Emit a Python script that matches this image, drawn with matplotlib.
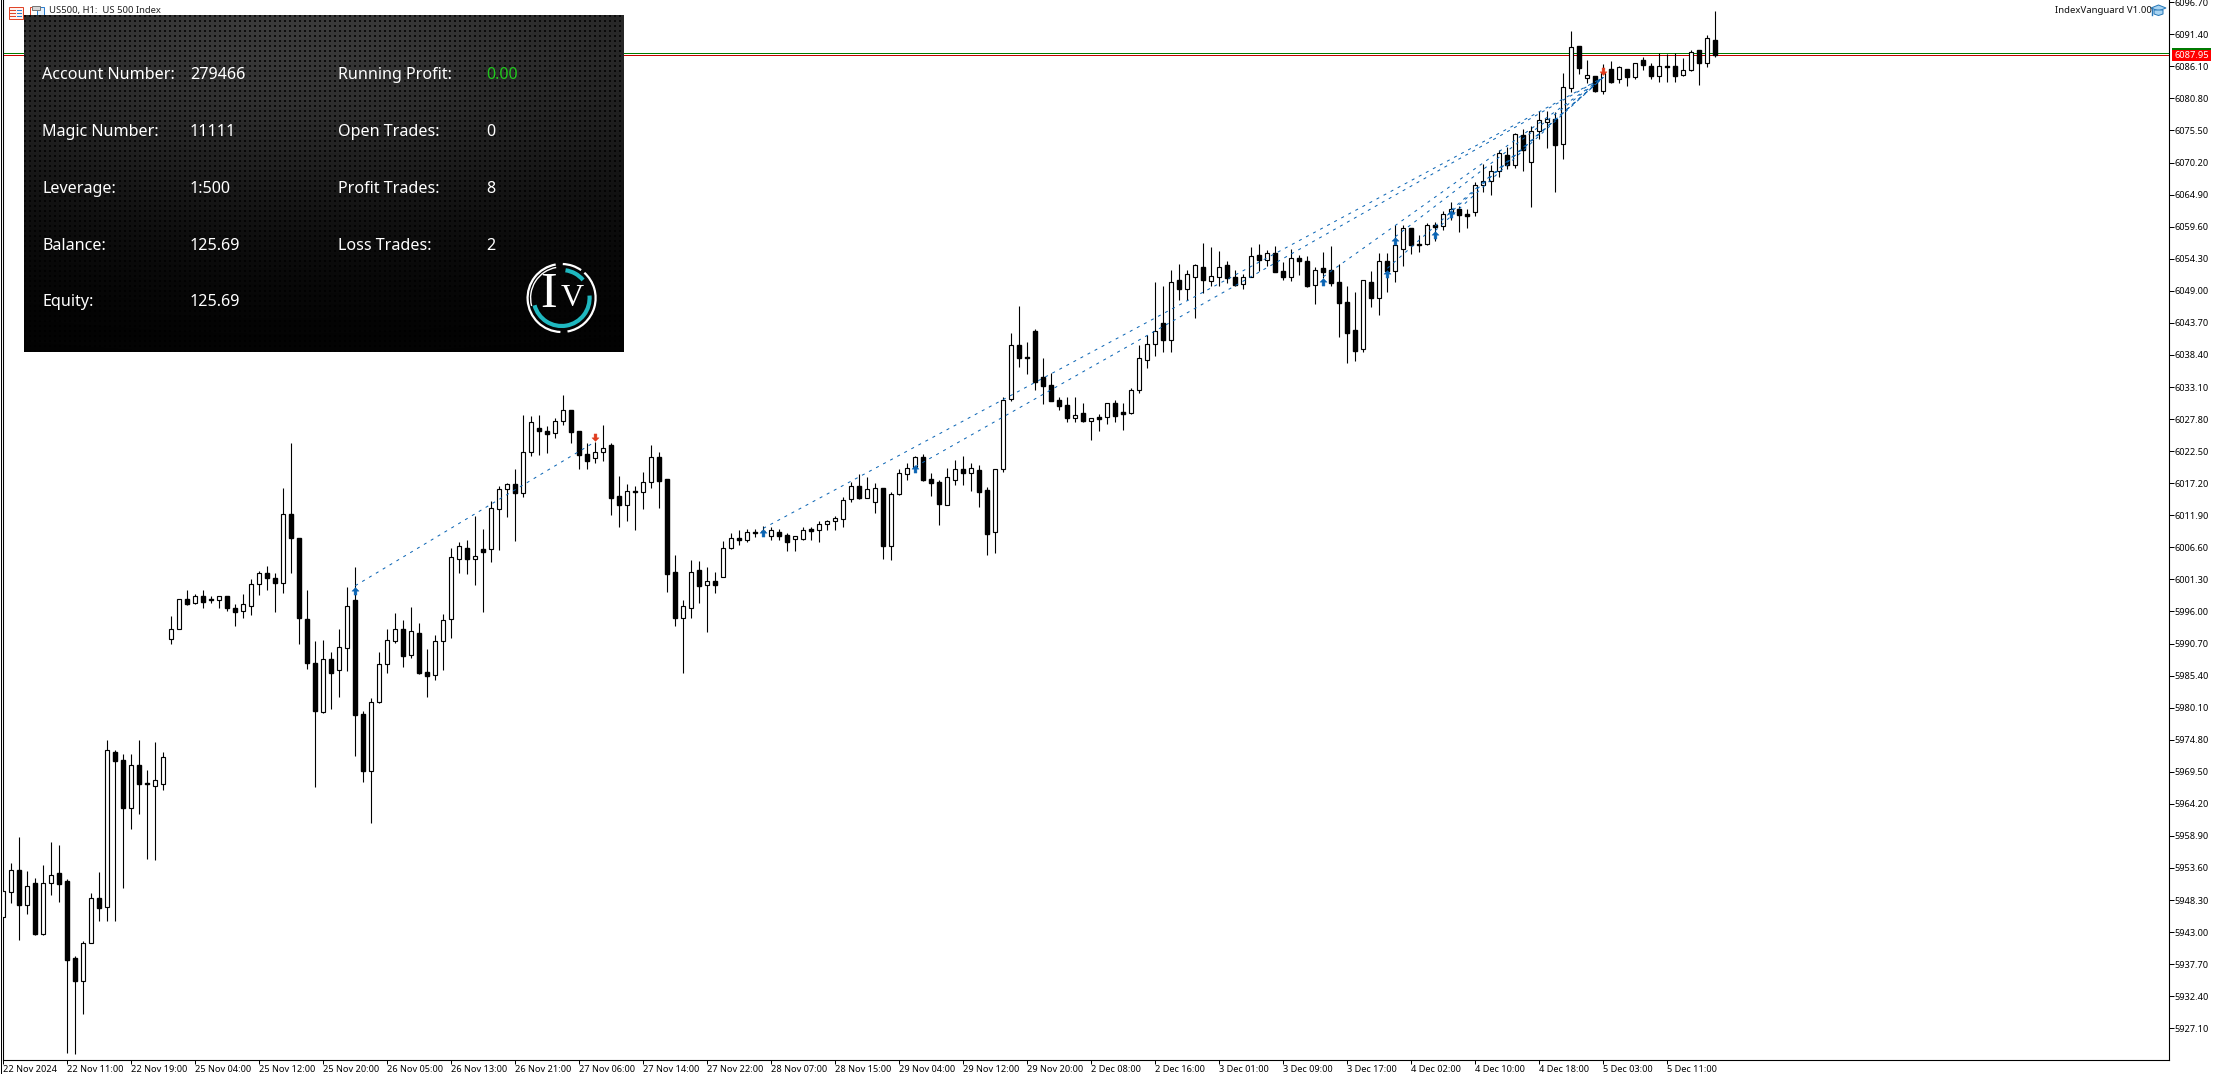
import numpy as np
import matplotlib
matplotlib.use("Agg")
import matplotlib.pyplot as plt
from matplotlib.patches import Rectangle, Arc
from matplotlib.path import Path
from matplotlib.lines import Line2D

W, H = 2222, 1074

highs = [5949.46,5954.16,5958.44,5952.77,5951.67,5953.81,5957.61,5957.06,5951.53,5938.68,
5941.31,5949.18,5952.64,5974.47,5972.81,5972.12,5972.12,5974.60,5969.63,5974.19,
5972.53,5995.05,5997.95,5999.33,5998.78,5999.33,5998.37,5998.37,5998.37,5997.12,
5998.64,6001.13,6002.51,6003.34,6002.10,6016.33,6023.79,6008.04,5999.33,5990.91,
5991.05,5989.11,5992.98,5999.89,6003.11,5979.26,5981.47,5989.09,5992.90,5995.55,
5994.39,5996.49,5993.89,5989.59,5991.85,5995.38,6006.32,6007.25,6007.64,6011.62,
6009.46,6014.04,6016.53,6017.08,6019.40,6028.34,6028.18,6028.34,6026.52,6027.85,
6031.66,6029.17,6025.69,6023.71,6023.87,6026.63,6023.65,6018.24,6016.92,6016.58,
6018.90,6023.32,6022.22,6017.74,6005.10,5997.70,6004.33,6004.16,6003.12,6002.29,
6007.42,6008.75,6009.25,6009.41,6009.41,6009.96,6009.74,6009.47,6008.75,6008.25,
6009.74,6009.74,6010.74,6010.90,6011.56,6014.71,6017.20,6018.58,6018.02,6017.03,
6016.20,6015.54,6019.35,6020.34,6021.50,6021.83,6018.69,6017.53,6019.57,6020.84,
6021.50,6020.34,6020.07,6016.37,6019.35,6031.27,6041.93,6046.40,6040.44,6042.59,
6037.73,6035.30,6031.27,6031.27,6031.33,6030.34,6027.80,6028.46,6030.28,6030.78,
6030.28,6032.77,6039.94,6041.55,6050.32,6049.72,6052.30,6053.30,6052.30,6053.30,
6056.78,6056.11,6055.45,6053.79,6052.30,6051.64,6056.11,6056.67,6055.62,6056.28,
6053.63,6055.78,6054.79,6054.62,6052.80,6055.28,6056.28,6053.35,6049.65,6048.67,
6050.70,6052.14,6055.12,6055.12,6059.76,6059.76,6059.27,6058.11,6060.09,6060.26,
6062.08,6063.57,6062.91,6062.41,6066.88,6069.86,6069.70,6072.18,6072.68,6075.00,
6075.66,6076.16,6078.64,6078.64,6078.53,6084.93,6091.95,6089.46,6087.09,6084.44,
6086.48,6086.92,6086.15,6085.60,6086.59,6087.58,6086.59,6088.25,6088.08,6088.25,
6087.42,6088.74,6088.74,6091.23,6095.20]

body_tops = [5949.46,5953.05,5953.05,5950.29,5950.84,5950.84,5952.08,5952.50,5951.19,5938.41,
5940.89,5948.35,5948.35,5972.81,5972.53,5971.15,5970.32,5970.32,5967.35,5967.83,
5971.77,5992.98,5997.82,5997.82,5998.44,5998.44,5997.82,5998.30,5998.30,5996.30,
5997.12,6000.30,6002.24,6002.24,6001.27,6011.91,6011.91,6007.90,5994.50,5987.32,
5988.01,5988.01,5989.94,5996.78,5997.70,5978.82,5980.75,5987.05,5991.02,5992.84,
5992.84,5992.51,5992.18,5985.72,5990.86,5994.34,6004.77,6006.59,6006.26,6004.93,
6006.15,6012.89,6016.03,6016.86,6016.86,6022.16,6027.13,6026.19,6025.69,6027.29,
6029.12,6029.12,6025.64,6021.83,6022.16,6022.82,6023.32,6014.87,6015.81,6015.70,
6017.19,6021.33,6021.33,6017.74,6002.28,5996.76,6002.28,6002.62,6000.80,6000.80,
6006.27,6007.92,6007.98,6008.91,6008.91,6009.19,6009.25,6008.91,6008.42,6008.25,
6009.25,6009.47,6010.24,6010.74,6011.23,6014.21,6016.53,6016.53,6016.04,6016.20,
6016.20,6015.21,6018.69,6019.52,6021.34,6021.34,6017.69,6017.20,6018.02,6019.35,
6019.35,6019.52,6019.18,6015.87,6019.35,6030.78,6039.89,6039.89,6037.90,6042.20,
6034.59,6033.26,6030.78,6030.00,6028.41,6028.63,6027.80,6027.96,6030.28,6030.28,
6028.79,6032.44,6037.74,6040.05,6042.21,6043.53,6050.32,6050.65,6051.64,6053.13,
6052.80,6051.31,6052.80,6053.13,6051.14,6051.14,6054.73,6054.79,6055.12,6055.12,
6052.14,6054.29,6054.29,6053.79,6052.30,6052.64,6052.30,6050.32,6047.00,6042.37,
6050.65,6050.32,6053.79,6053.80,6056.50,6059.27,6059.27,6056.62,6059.76,6059.76,
6061.58,6062.41,6062.41,6061.58,6066.39,6067.05,6068.71,6071.69,6071.36,6074.83,
6074.67,6075.33,6077.15,6077.32,6077.32,6082.62,6089.24,6089.41,6084.60,6084.44,
6084.93,6085.60,6085.93,6085.60,6086.59,6087.09,6086.09,6086.09,6086.09,6086.09,
6085.43,6088.41,6088.74,6090.73,6090.40]

body_bottoms = [5945.18,5949.32,5947.25,5947.11,5942.41,5942.41,5950.84,5950.70,5938.13,5934.54,
5934.54,5940.89,5946.70,5946.83,5971.01,5963.28,5963.28,5967.28,5967.28,5966.87,
5967.28,5991.18,5992.98,5997.12,5997.26,5997.40,5997.75,5997.75,5996.30,5995.74,
5995.88,5996.71,6000.30,6001.27,6000.58,6000.58,6007.90,5994.78,5987.32,5979.30,
5979.16,5985.66,5986.07,5989.80,5978.71,5969.44,5969.44,5980.75,5987.05,5990.97,
5988.48,5988.65,5985.67,5985.12,5985.23,5990.86,5994.50,6004.44,6004.55,6004.55,
6005.65,6006.09,6012.83,6016.03,6015.48,6015.37,6022.16,6025.69,6025.20,6025.31,
6027.29,6025.58,6021.77,6020.78,6021.17,6022.16,6014.65,6013.49,6013.49,6015.65,
6015.53,6017.19,6017.47,6002.06,5994.78,5994.78,5996.43,6000.08,6000.25,6000.25,
6001.57,6006.27,6007.70,6007.70,6008.86,6009.14,6008.25,6008.36,6007.37,6007.76,
6007.87,6009.19,6009.36,6010.24,6010.74,6011.18,6014.49,6014.66,6014.66,6013.99,
6006.71,6006.71,6015.21,6018.63,6019.79,6017.58,6017.14,6013.66,6013.50,6017.64,
6018.80,6018.80,6015.65,6008.69,6009.03,6019.46,6031.05,6037.84,6037.84,6033.81,
6033.15,6030.67,6029.84,6027.85,6027.91,6027.36,6027.41,6027.74,6027.96,6028.24,
6028.52,6028.74,6032.55,6037.52,6040.17,6040.77,6040.82,6049.27,6049.16,6051.25,
6050.76,6050.59,6051.14,6051.09,6049.93,6049.98,6051.14,6054.07,6054.07,6052.08,
6051.14,6051.14,6053.79,6049.71,6049.82,6052.08,6050.26,6046.95,6041.98,6039.01,
6039.34,6047.78,6047.78,6052.14,6052.14,6055.79,6056.56,6056.56,6056.62,6059.54,
6059.60,6061.97,6061.53,6061.36,6061.91,6066.39,6067.05,6068.71,6069.70,6069.70,
6072.29,6070.20,6075.33,6076.82,6073.12,6073.17,6082.45,6085.87,6084.22,6082.06,
6082.06,6083.55,6083.94,6084.38,6084.38,6086.37,6084.55,6084.55,6086.04,6084.55,
6084.60,6085.54,6086.59,6086.59,6087.92]

lows = [5945.18,5947.52,5941.45,5945.73,5942.28,5942.28,5948.77,5947.66,5922.66,5922.52,
5929.15,5940.89,5944.62,5944.62,5944.62,5950.01,5959.82,5962.31,5954.85,5954.57,
5966.18,5990.35,5992.98,5996.85,5996.99,5996.43,5997.26,5996.43,5995.88,5993.39,
5994.78,5995.19,5998.51,5999.33,5995.74,5998.92,6002.24,5990.35,5986.21,5966.73,
5979.03,5979.72,5981.65,5985.93,5971.87,5967.56,5960.82,5980.70,5985.61,5990.64,
5986.66,5988.10,5985.45,5981.69,5984.45,5986.11,5991.41,6002.23,6002.01,6000.24,
5995.72,6004.00,6005.98,6011.50,6007.47,6014.82,6021.55,6021.77,6022.10,6024.53,
6026.74,6023.76,6019.45,6019.45,6020.45,6020.78,6011.78,6009.85,6010.84,6009.30,
6012.83,6016.31,6013.00,5999.08,5993.45,5985.67,5994.78,5997.26,5992.46,5998.92,
6001.57,6006.21,6006.87,6007.37,6008.20,6008.42,6007.65,6007.65,6005.88,6005.88,
6007.65,6007.65,6007.31,6009.30,6009.30,6009.85,6013.94,6014.49,6014.66,6012.17,
6004.55,6004.39,6015.15,6017.58,6018.91,6017.42,6014.93,6010.13,6013.44,6016.81,
6016.75,6015.82,6013.11,6005.22,6005.55,6018.96,6030.72,6036.30,6035.14,6032.49,
6030.17,6030.67,6029.18,6027.19,6027.19,6027.19,6024.21,6025.70,6026.86,6027.19,
6025.87,6028.57,6031.99,6036.14,6038.12,6038.78,6038.78,6047.39,6047.39,6044.46,
6048.60,6049.71,6049.76,6050.21,6049.71,6049.27,6051.14,6052.25,6053.02,6052.08,
6050.76,6050.48,6051.53,6049.60,6046.78,6050.98,6049.76,6041.32,6037.02,6037.35,
6038.78,6046.29,6044.96,6048.72,6050.38,6053.08,6055.07,6055.35,6056.56,6057.22,
6058.99,6060.65,6058.66,6059.32,6061.36,6065.28,6064.79,6067.77,6069.09,6069.26,
6068.76,6062.80,6074.01,6072.57,6065.28,6070.80,6081.90,6084.88,6083.33,6081.90,
6081.57,6083.39,6083.39,6082.89,6084.05,6085.54,6084.05,6083.55,6083.55,6083.55,
6084.44,6085.38,6083.06,6086.04,6087.69]

directions = ("UUDUDUUDDD" "UUDUDDUDDU" "UUUDUDDUDD" "UUUDDUDDDD" "UDUUDDUUUU"
              "DUDDUUUUDU" "DUUUDUUDDU" "UDDDUUDDUD" "UUDDDUUDUD" "UUDUDDUDDU"
              "UDUUUUUDUU" "DUUUUDDDUU" "DUDDUUUDDD" "DDDDUDUDUD" "DUUUUDUDUU"
              "DUUDDUUDUD" "DUDDUDDDDD" "UDUDUUDDUD" "UUDDUUUUDU" "DUUUDUUDUD"
              "UDUDUDDUDD" "UUDUD")

price_ticks = [6096.70,6091.40,6086.10,6080.80,6075.50,6070.20,6064.90,6059.60,6054.30,6049.00,
               6043.70,6038.40,6033.10,6027.80,6022.50,6017.20,6011.90,6006.60,6001.30,5996.00,
               5990.70,5985.40,5980.10,5974.80,5969.50,5964.20,5958.90,5953.60,5948.30,5943.00,
               5937.70,5932.40,5927.10]
time_labels = ["22 Nov 2024","22 Nov 11:00","22 Nov 19:00","25 Nov 04:00","25 Nov 12:00","25 Nov 20:00",
               "26 Nov 05:00","26 Nov 13:00","26 Nov 21:00","27 Nov 06:00","27 Nov 14:00","27 Nov 22:00",
               "28 Nov 07:00","28 Nov 15:00","29 Nov 04:00","29 Nov 12:00","29 Nov 20:00","2 Dec 08:00",
               "2 Dec 16:00","3 Dec 01:00","3 Dec 09:00","3 Dec 17:00","4 Dec 02:00","4 Dec 10:00",
               "4 Dec 18:00","5 Dec 03:00","5 Dec 11:00"]

bid_price = 6087.92
ask_price = 6088.25

entry_bars   = [44, 95, 114, 165, 173, 174, 179, 181]
entry_prices = [5999.19, 6008.75, 6019.35, 6050.37, 6051.70, 6057.17, 6058.16, 6061.58]
exit_bars    = [74, 200]
exit_prices  = [6024.64, 6085.27]
trade_from_bar   = [44, 95, 114, 165, 173, 174, 179, 181, 185]
trade_from_price = [6000.08, 6009.58, 6019.79, 6051.25, 6052.64, 6057.88, 6058.90, 6062.30, 6066.70]
trade_to_bar     = [74, 200, 200, 200, 200, 200, 200, 200, 200]
trade_to_price   = [6023.93, 6084.27, 6084.27, 6084.27, 6084.27, 6084.27, 6084.27, 6084.27, 6084.27]

panel_labels_left  = ["Account Number:", "Magic Number:", "Leverage:", "Balance:", "Equity:"]
panel_values_left  = ["279466", "11111", "1:500", "125.69", "125.69"]
panel_labels_right = ["Running Profit:", "Open Trades:", "Profit Trades:", "Loss Trades:"]
panel_values_right = ["0.00", "0", "8", "2"]

FONT = "Noto Sans"
plt.rcParams["font.family"] = [FONT, "DejaVu Sans"]
PX = 0.72

fig = plt.figure(figsize=(W / 100, H / 100), dpi=100, facecolor="white")


def px_axes(x, y, w, h, **kw):
    return fig.add_axes([x / W, 1 - (y + h) / H, w / W, h / H], **kw)


ax = px_axes(3, 0, 2166, 1060)
ax.set_xlim(-0.04, 270.71)
ax.set_ylim(5921.52, 6097.08)
ax.set_facecolor("white")

x = np.arange(len(highs))
tops = np.array(body_tops)
bottoms = np.array(body_bottoms)
up = np.array([d == "U" for d in directions])

ax.vlines(x, lows, highs, color="black", lw=PX * 1.1, zorder=2)
ax.bar(x[up], (tops - bottoms)[up], bottom=bottoms[up], width=0.5,
       facecolor="white", edgecolor="black", linewidth=PX * 1.15, zorder=3)
ax.bar(x[~up], (tops - bottoms)[~up], bottom=bottoms[~up], width=0.5,
       facecolor="black", edgecolor="black", linewidth=PX * 1.4, zorder=3)

ax.axhline(ask_price, color="#007a00", lw=PX, zorder=1)
ax.axhline(bid_price, color="#c80000", lw=PX, zorder=1)

for x0, y0, x1, y1 in zip(trade_from_bar, trade_from_price, trade_to_bar, trade_to_price):
    ax.plot([x0, x1], [y0, y1], color="#0a64b4", lw=PX, ls=(0, (3, 5)), zorder=4)

arrow_up = Path([(0, .55), (.5, .05), (.2, .05), (.2, -.5), (-.2, -.5), (-.2, .05), (-.5, .05), (0, .55)], closed=True)
arrow_dn = Path([(0, -.55), (.5, -.05), (.2, -.05), (.2, .5), (-.2, .5), (-.2, -.05), (-.5, -.05), (0, -.55)], closed=True)
ax.plot(entry_bars, entry_prices, ls="", marker=arrow_up, ms=5.6, mfc="#0a64b4", mec="#0a64b4", mew=0.3, zorder=5)
ax.plot(exit_bars, exit_prices, ls="", marker=arrow_dn, ms=5.6, mfc="#e03c1e", mec="#e03c1e", mew=0.3, zorder=5)

ax.spines["top"].set_visible(False)
for s in ["left", "right", "bottom"]:
    ax.spines[s].set_linewidth(PX * 1.1)
ax.yaxis.tick_right()
ax.set_yticks([p - 0.002 * (6091.4 - p) for p in price_ticks])
ax.set_yticklabels([f"{p:.2f}" for p in price_ticks], fontsize=6.6, color="black")
ax.tick_params(axis="y", length=3.6, width=PX, pad=0.6)
ax.set_xticks(x[::8][:len(time_labels)])
ax.set_xticklabels(time_labels, ha="left", fontsize=6.6, color="black")
ax.tick_params(axis="x", length=3, width=PX, pad=0.8)

# overlay in pixel coordinates: window chrome, label, icons
ov = fig.add_axes([0, 0, 1, 1], zorder=5)
ov.set_xlim(0, W)
ov.set_ylim(H, 0)
ov.axis("off")
ov.patch.set_alpha(0)
ov.add_line(Line2D([0.8, 0.8], [0, 1074], color="black", lw=PX))
ov.text(49, 10.5, "US500, H1:  US 500 Index", fontsize=6.8, va="center", ha="left", color="#222222")
ov.text(2055, 10.5, "IndexVanguard V1.00", fontsize=6.9, va="center", ha="left", color="#111111")
# chart icons
ov.add_patch(Rectangle((8.5, 6.5), 14, 12, fc="#fff2ee", ec="#e0452a", lw=PX))
for yy in (10, 13, 16):
    ov.add_line(Line2D([10, 15], [yy, yy], color="#e0452a", lw=PX))
    ov.add_line(Line2D([16.5, 21], [yy, yy], color="#2d7fd0", lw=PX))
ov.add_patch(Rectangle((29.5, 7), 7, 11.5, fc="#ffffff", ec="#e0452a", lw=PX))
ov.add_patch(Rectangle((36.5, 7), 7, 11.5, fc="#e8f2fb", ec="#2d7fd0", lw=PX))
ov.add_patch(Rectangle((32, 5.5), 8, 4, fc="#d8d8d8", ec="#777777", lw=PX))
# cap icon
ov.fill([2151, 2158.5, 2166, 2158.5], [8, 5, 8, 11], fc="#a8d4f2", ec="#2878b8", lw=PX)
ov.fill([2154, 2154, 2158.5, 2163, 2163], [10, 14, 15.5, 14, 10], fc="#a8d4f2", ec="#2878b8", lw=PX)
ov.add_line(Line2D([2152, 2152], [8, 15], color="#2878b8", lw=PX * 1.4))
# price label
ov.add_patch(Rectangle((2172, 48), 39, 2.3, fc="#007a00", ec="none"))
ov.add_patch(Rectangle((2172, 50.3), 39, 10.4, fc="#ff0000", ec="none"))
ov.text(2191.5, 55.3, "6087.95", color="white", fontsize=6.7, ha="center", va="center")

# account panel
pan = px_axes(24, 15, 600, 337, zorder=6)
pan.axis("off")
yy, xx = np.mgrid[0:337, 0:600]
base = 58 * np.exp(-((yy / 185.0) ** 2)) * (0.6 + 0.4 * np.exp(-(((xx - 260) / 280.0) ** 2))) + 1
holes = ((xx % 5 < 2) & (yy % 5 < 2)).astype(float)
img = np.clip(base * (1 - 0.75 * holes), 0, 255).astype(np.uint8)
pan.imshow(img, cmap="gray", vmin=0, vmax=255, extent=(24, 624, 352, 15), aspect="auto",
           interpolation="nearest", zorder=0)
pan.set_xlim(24, 624)
pan.set_ylim(352, 15)
row_y = [74.8, 131.5, 188.8, 245.5, 302.5]
for yv, a, b in zip(row_y, panel_labels_left, panel_values_left):
    pan.text(42.4, yv, a, color="white", fontsize=11.6, va="center", ha="left")
    pan.text(190.0, yv, b, color="white", fontsize=11.6, va="center", ha="left")
for yv, a, b in zip(row_y, panel_labels_right, panel_values_right):
    pan.text(338.0, yv, a, color="white", fontsize=11.6, va="center", ha="left")
    pan.text(486.0, yv, b, color="#22c81e" if a.startswith("Running") else "white",
             fontsize=11.6, va="center", ha="left")
# logo
cx, cy = 561.6, 298
for t1, t2 in [(-88, -55), (-48, 80), (92, 260)]:
    pan.add_patch(Arc((cx, cy), 68, 68, theta1=t1, theta2=t2, color="white", lw=1.6))
for t1, t2 in [(-82, -40), (-5, 165)]:
    pan.add_patch(Arc((cx, cy), 56, 56, theta1=t1, theta2=t2, color="#1fb8c0", lw=3.0))
pan.add_patch(Arc((cx, cy), 62, 62, theta1=165, theta2=260, color="white", lw=1.0))
pan.text(549, 295, "I", color="white", family="Liberation Serif", fontsize=36, ha="center", va="center")
pan.text(572, 298, "V", color="white", family="Liberation Serif", fontsize=23, ha="center", va="center")

fig.savefig("out.png", dpi=100)
